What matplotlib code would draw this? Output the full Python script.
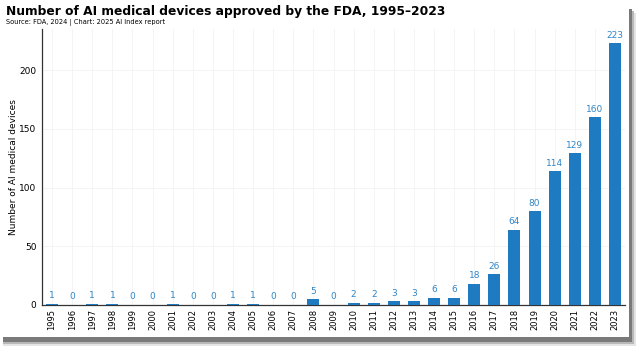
import matplotlib.pyplot as plt
from matplotlib.patches import Rectangle

# Data
years = [str(y) for y in range(1995, 2024)]
devices = [1, 0, 1, 1, 0, 0, 1, 0, 0, 1, 1, 0, 0, 5, 0, 2, 2, 3, 3, 6, 6, 18, 26, 64, 80, 114, 129, 160, 223]

bar_color = "#1f7bc1"
label_color = "#2f86c8"

fig = plt.figure(figsize=(6.4, 3.47), dpi=100, facecolor="white")

# Soft drop shadow round the card (a few layers, lightest outside)
W, H = 640, 347
for off, col in [(7, "#e4e4e4"), (5, "#b8b8b8"), (3, "#7a7a7a")]:
    fig.patches.append(Rectangle((3 / W, (5 - off + 3) / H), (629 + off - 3) / W, (H - 14) / H,
                                 transform=fig.transFigure, facecolor=col,
                                 edgecolor="none", zorder=0))
fig.patches.append(Rectangle((0.0, 10 / H), 629 / W, 1 - 10 / H, transform=fig.transFigure,
                             facecolor="white", edgecolor="none", zorder=1))

ax = fig.add_axes([42 / 640, 1 - 305 / 347, (625 - 42) / 640, (305 - 29) / 347])
ax.set_zorder(2)

x = list(range(len(years)))
ax.bar(x, devices, width=0.6, color=bar_color, zorder=3)
for xi, v in zip(x, devices):
    ax.text(xi, v + 3, str(v), ha="center", va="bottom", fontsize=6.5, color=label_color, zorder=4)

ax.set_xlim(-0.5, len(years) - 0.5)
ax.set_ylim(0, 235)
ax.set_xticks(x)
ax.set_xticklabels(years, rotation=90, fontsize=6)
ax.set_yticks([0, 50, 100, 150, 200])
ax.tick_params(axis="y", labelsize=6.5, length=0, pad=4)
ax.tick_params(axis="x", length=0, pad=3)
ax.set_ylabel("Number of AI medical devices", fontsize=6.5, labelpad=1)

ax.grid(True, color="#f2f2f2", linewidth=0.6, zorder=0)
for s in ["top", "right"]:
    ax.spines[s].set_visible(False)
ax.spines["left"].set_color("#333333")
ax.spines["bottom"].set_color("#333333")
ax.spines["left"].set_linewidth(0.9)
ax.spines["bottom"].set_linewidth(0.9)

fig.text(6 / 640, 1 - 12 / 347, "Number of AI medical devices approved by the FDA, 1995–2023",
         fontsize=8.8, fontweight="bold", va="center", ha="left", zorder=5)
fig.text(6 / 640, 1 - 23 / 347, "Source: FDA, 2024 | Chart: 2025 AI Index report",
         fontsize=4.8, va="center", ha="left", zorder=5)

fig.savefig("out.png", dpi=100, facecolor="white")
